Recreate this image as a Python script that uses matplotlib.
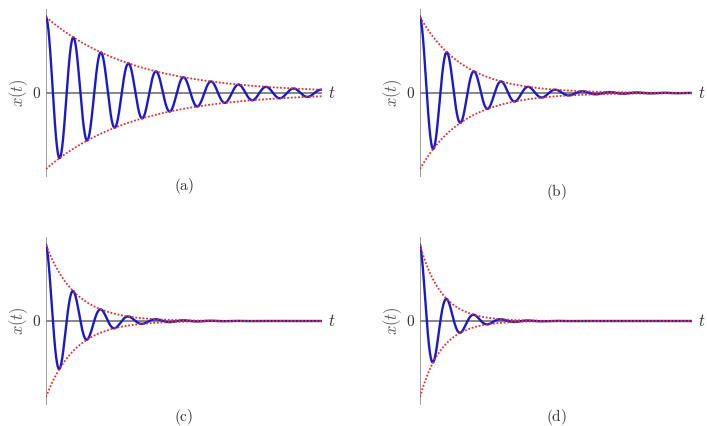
import numpy as np
import matplotlib.pyplot as plt

plt.rcParams["mathtext.fontset"] = "cm"
plt.rcParams["font.family"] = "serif"
plt.rcParams["font.serif"] = ["DejaVu Serif"]

# damping rates read from the successive peak ratios of each panel
panel_labels = ["(a)", "(b)", "(c)", "(d)"]
damping = [0.05, 0.10, 0.15, 0.20]
omega = 1.0
t_end = 63.0
amplitude = 1.0

# axes rectangles in figure fractions (left, bottom, width, height)
rects = [
    (0.0651, 0.5854, 0.3904, 0.3925),
    (0.5941, 0.5854, 0.3847, 0.3925),
    (0.0651, 0.0502, 0.3904, 0.3925),
    (0.5941, 0.0502, 0.3847, 0.3925),
]
label_y = [-0.055, -0.09, -0.072, -0.072]

fig = plt.figure(figsize=(7.07, 4.26), dpi=100)

t = np.linspace(0, t_end, 3000)
for lab, g, rect, ly in zip(panel_labels, damping, rects, label_y):
    ax = fig.add_axes(rect)
    env = amplitude * np.exp(-g * t)
    x = env * np.cos(omega * t)

    # axes drawn as gray lines
    ax.plot([0, t_end], [0, 0], color="0.45", lw=1.2, zorder=1)
    ax.plot([0, 0], [-1.1, 1.1], color="0.55", lw=1.2, zorder=1)

    ax.plot(t, x, color="#1a1acc", lw=1.7, zorder=2)
    ax.plot(t, env, color="#e03030", lw=1.3, ls=(0, (1, 1)), zorder=3)
    ax.plot(t, -env, color="#e03030", lw=1.3, ls=(0, (1, 1)), zorder=3)

    ax.set_xlim(0, t_end)
    ax.set_ylim(-1.1, 1.1)
    ax.axis("off")

    ax.annotate("$0$", xy=(0, 0.5), xycoords="axes fraction",
                xytext=(-7, 0), textcoords="offset points",
                ha="center", va="center", fontsize=11, color="0.2")
    ax.annotate("$t$", xy=(1, 0.5), xycoords="axes fraction",
                xytext=(7, 0), textcoords="offset points",
                ha="center", va="center", fontsize=12, color="0.2")
    ax.annotate("$x(t)$", xy=(0, 0.5), xycoords="axes fraction",
                xytext=(-20, 0), textcoords="offset points", rotation=90,
                ha="center", va="center", fontsize=12, color="0.35")
    ax.text(0.5, ly, "$\\mathrm{" + lab + "}$", transform=ax.transAxes,
            ha="center", va="center", fontsize=11, color="0.2")

plt.savefig("out.png", dpi=100)
